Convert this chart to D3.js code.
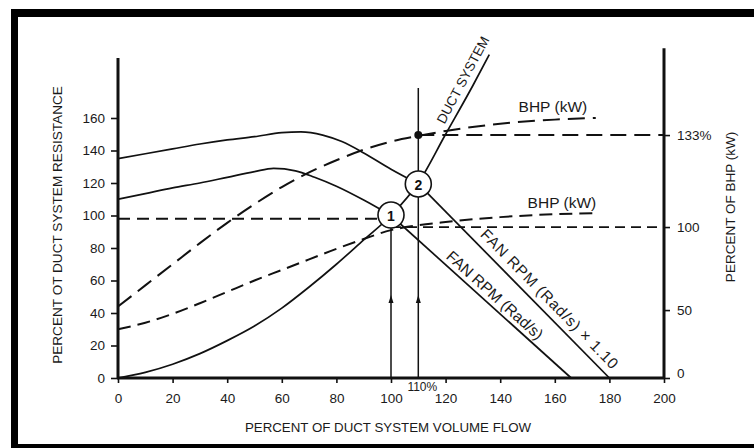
<!DOCTYPE html>
<html>
<head>
<meta charset="utf-8">
<script src="https://cdn.jsdelivr.net/npm/d3@7"></script>
<style>
  body { margin: 0; background: #fff; }
  svg { display: block; font-family: "Liberation Sans", Arial, sans-serif; }
  .axis text { fill: #1a1a1a; font-size: 13.5px; }
  .axis line { stroke: #111; stroke-width: 1.6; }
  .axis path { display: none; }
</style>
</head>
<body>
<svg id="chart" width="754" height="448"></svg>
<script>
// x = percent of duct system volume flow, y = percent of duct system resistance (left scale)
const xTicks = [0, 20, 40, 60, 80, 100, 120, 140, 160, 180, 200];
const yTicks = [0, 20, 40, 60, 80, 100, 120, 140, 160];

// right (BHP) axis: labels and the level each one sits at on the left scale
const bhpTickValues = [0, 50, 100, 133];
const bhpTickLabels = ['0', '50', '100', '133%'];
const bhpTickLevels = [0, 41.8, 92.9, 149.5];

// system curve
const ductSystem = [[0, 0], [10, 3.5], [20, 8.5], [30, 15], [40, 23], [50, 32], [60, 43], [70, 56], [80, 70], [90, 85], [100, 100], [110, 120], [120, 150], [130, 180], [136, 199]];

// fan curve at design speed: curved part, then the straight run down to the axis
const fanCurve = [[0, 110], [10, 113.5], [20, 117], [30, 120], [40, 123.5], [50, 127], [57, 129], [65, 127.5], [72, 123.5], [80, 118], [90, 109.5], [100, 100]];
const fanStraight = [[100, 100], [166, 0]];

// fan curve at 1.10 x speed
const fan110Curve = [[0, 135], [10, 138], [20, 141], [30, 144], [40, 146.5], [50, 148.5], [60, 151], [67, 151.5], [75, 149.5], [82, 145.5], [90, 138.5], [100, 128.5], [110, 119.5]];
const fan110Straight = [[110, 119.5], [180, 0]];

// brake horsepower curves (dashed)
const bhpDesign = [[0, 30], [10, 34], [20, 39.5], [30, 46], [40, 53], [50, 60], [60, 66.5], [70, 73], [80, 79.5], [90, 85.5], [100, 91], [110, 94], [120, 96], [140, 99], [160, 100.8], [176, 101.5]];
const bhpRaised = [[0, 44], [10, 57], [20, 70], [30, 83], [40, 95.5], [50, 107], [60, 117.5], [70, 126.5], [80, 134], [90, 140.5], [100, 145.5], [110, 149], [120, 152], [140, 156.5], [160, 159], [175, 160]];

// operating points
const opFlows = [100, 110];
const opResist = [100.3, 119.4];
const opNames = ['1', '2'];

const resistRef = 98;     // dashed 100 line on the left scale
const arrowLevel = 48;
const flow110Top = 178.5;
const leftTop = 197;
const rightTop = 203;

const svg = d3.select('#chart');
const ink = '#111';

// scan frame
svg.append('rect').attr('x', 11).attr('y', 9).attr('width', 743).attr('height', 8).attr('fill', '#000');
svg.append('rect').attr('x', 11).attr('y', 9).attr('width', 7).attr('height', 439).attr('fill', '#000');
svg.append('rect').attr('x', 11).attr('y', 444).attr('width', 743).attr('height', 4).attr('fill', '#000');

const x = d3.scaleLinear().domain([0, 200]).range([118, 664]);
const y = d3.scaleLinear().domain([0, 160]).range([378, 118]);
const yBhp = d3.scaleLinear().domain(bhpTickValues).range(bhpTickLevels.map(y));

// axes
svg.append('g').attr('class', 'axis').attr('transform', `translate(${x(0)},0)`)
  .call(d3.axisLeft(y).tickValues(yTicks).tickSize(7).tickPadding(6));
svg.append('g').attr('class', 'axis').attr('transform', `translate(0,${y(0)})`)
  .call(d3.axisBottom(x).tickValues(xTicks).tickSize(5).tickPadding(10));
const gR = svg.append('g').attr('class', 'axis').attr('transform', `translate(${x(200)},0)`)
  .call(d3.axisRight(yBhp).tickValues(bhpTickValues).tickSize(6).tickPadding(7)
    .tickFormat((d, i) => bhpTickLabels[i]));
gR.selectAll('.tick text').filter(d => d === 0).attr('dy', '-0.05em');

svg.append('line').attr('x1', x(0)).attr('x2', x(0)).attr('y1', y(0) + 1).attr('y2', y(leftTop))
  .attr('stroke', ink).attr('stroke-width', 3);
svg.append('line').attr('x1', x(200)).attr('x2', x(200)).attr('y1', y(0) + 1).attr('y2', y(rightTop))
  .attr('stroke', ink).attr('stroke-width', 3);
svg.append('line').attr('x1', x(0) - 1).attr('x2', x(200) + 1).attr('y1', y(0)).attr('y2', y(0))
  .attr('stroke', ink).attr('stroke-width', 3);

// axis titles
svg.append('text').attr('transform', `translate(57,225) rotate(-90)`)
  .attr('text-anchor', 'middle').attr('dominant-baseline', 'central')
  .attr('font-size', 13.6).attr('fill', '#1a1a1a').text('PERCENT OT DUCT SYSTEM RESISTANCE');
svg.append('text').attr('transform', `translate(730,207) rotate(-90)`)
  .attr('text-anchor', 'middle').attr('dominant-baseline', 'central')
  .attr('font-size', 13.5).attr('fill', '#1a1a1a').text('PERCENT OF BHP (kW)');
svg.append('text').attr('x', 388).attr('y', 427)
  .attr('text-anchor', 'middle').attr('dominant-baseline', 'central')
  .attr('font-size', 13.3).attr('fill', '#1a1a1a').text('PERCENT OF DUCT SYSTEM VOLUME FLOW');
svg.append('text').attr('x', x(110) + 4).attr('y', 387)
  .attr('text-anchor', 'middle').attr('dominant-baseline', 'central')
  .attr('font-size', 12).attr('fill', '#1a1a1a').text('110%');

const curved = d3.line().x(d => x(d[0])).y(d => y(d[1])).curve(d3.curveMonotoneX);
const straight = d3.line().x(d => x(d[0])).y(d => y(d[1]));

// reference dashed lines
svg.append('line').attr('x1', x(0)).attr('x2', x(opFlows[0]) - 13)
  .attr('y1', y(resistRef)).attr('y2', y(resistRef))
  .attr('stroke', ink).attr('stroke-width', 1.8).attr('stroke-dasharray', '12,7');
svg.append('line').attr('x1', x(opFlows[0])).attr('x2', x(200))
  .attr('y1', yBhp(100)).attr('y2', yBhp(100))
  .attr('stroke', ink).attr('stroke-width', 1.8).attr('stroke-dasharray', '10,6');
svg.append('line').attr('x1', x(opFlows[1])).attr('x2', x(200))
  .attr('y1', yBhp(133)).attr('y2', yBhp(133))
  .attr('stroke', ink).attr('stroke-width', 2).attr('stroke-dasharray', '16,8');

// BHP curves
svg.append('path').attr('d', curved(bhpDesign)).attr('fill', 'none')
  .attr('stroke', ink).attr('stroke-width', 2).attr('stroke-dasharray', '13,7');
svg.append('path').attr('d', curved(bhpRaised)).attr('fill', 'none')
  .attr('stroke', ink).attr('stroke-width', 2).attr('stroke-dasharray', '17,8');

// fan and system curves
[fanCurve, fan110Curve, ductSystem].forEach(s => {
  svg.append('path').attr('d', curved(s)).attr('fill', 'none').attr('stroke', ink).attr('stroke-width', 1.7);
});
[fanStraight, fan110Straight].forEach(s => {
  svg.append('path').attr('d', straight(s)).attr('fill', 'none').attr('stroke', ink).attr('stroke-width', 1.7);
});

// vertical flow lines with arrows
svg.append('line').attr('x1', x(opFlows[0])).attr('x2', x(opFlows[0]))
  .attr('y1', y(0)).attr('y2', y(opResist[0]))
  .attr('stroke', ink).attr('stroke-width', 1.5);
svg.append('line').attr('x1', x(opFlows[1])).attr('x2', x(opFlows[1]))
  .attr('y1', y(0)).attr('y2', y(flow110Top))
  .attr('stroke', ink).attr('stroke-width', 1.5);
opFlows.forEach(f => {
  const ax = x(f), ay = y(arrowLevel);
  svg.append('path').attr('d', `M${ax},${ay - 5}L${ax - 2.5},${ay + 3}L${ax + 2.5},${ay + 3}Z`).attr('fill', ink);
});

// 133% point
svg.append('circle').attr('cx', x(opFlows[1])).attr('cy', yBhp(133)).attr('r', 4).attr('fill', ink);

// operating point circles
opFlows.forEach((f, i) => {
  svg.append('circle').attr('cx', x(f)).attr('cy', y(opResist[i])).attr('r', 13)
    .attr('fill', '#fff').attr('stroke', ink).attr('stroke-width', 1.6);
  svg.append('text').attr('x', x(f)).attr('y', y(opResist[i]) + 1)
    .attr('text-anchor', 'middle').attr('dominant-baseline', 'central')
    .attr('font-size', 14).attr('font-weight', 'bold').attr('fill', ink).text(opNames[i]);
});

// curve labels
function angleOf(seg) {
  return Math.atan2(y(seg[1][1]) - y(seg[0][1]), x(seg[1][0]) - x(seg[0][0])) * 180 / Math.PI;
}
const ductTail = ductSystem.slice(-2);
function label(txt, at, ang, size, spacing) {
  svg.append('text').attr('transform', `translate(${x(at[0])},${y(at[1])}) rotate(${ang})`)
    .attr('text-anchor', 'middle').attr('dominant-baseline', 'central')
    .attr('font-size', size).attr('letter-spacing', spacing || 0).attr('fill', '#1a1a1a').text(txt);
}
label('DUCT SYSTEM', [126.4, 183.4], angleOf(ductTail), 13.5);
label('FAN RPM (Rad/s)', [138.1, 51], angleOf(fanStraight), 15.5);
label('FAN RPM (Rad/s) \u00d7 1.10', [158.2, 48.6], angleOf(fan110Straight), 15.5, 0.8);
label('BHP (kW)', [159.3, 166.8], 0, 15.5);
label('BHP (kW)', [162.6, 107.7], 0, 15.5);
</script>
</body>
</html>
